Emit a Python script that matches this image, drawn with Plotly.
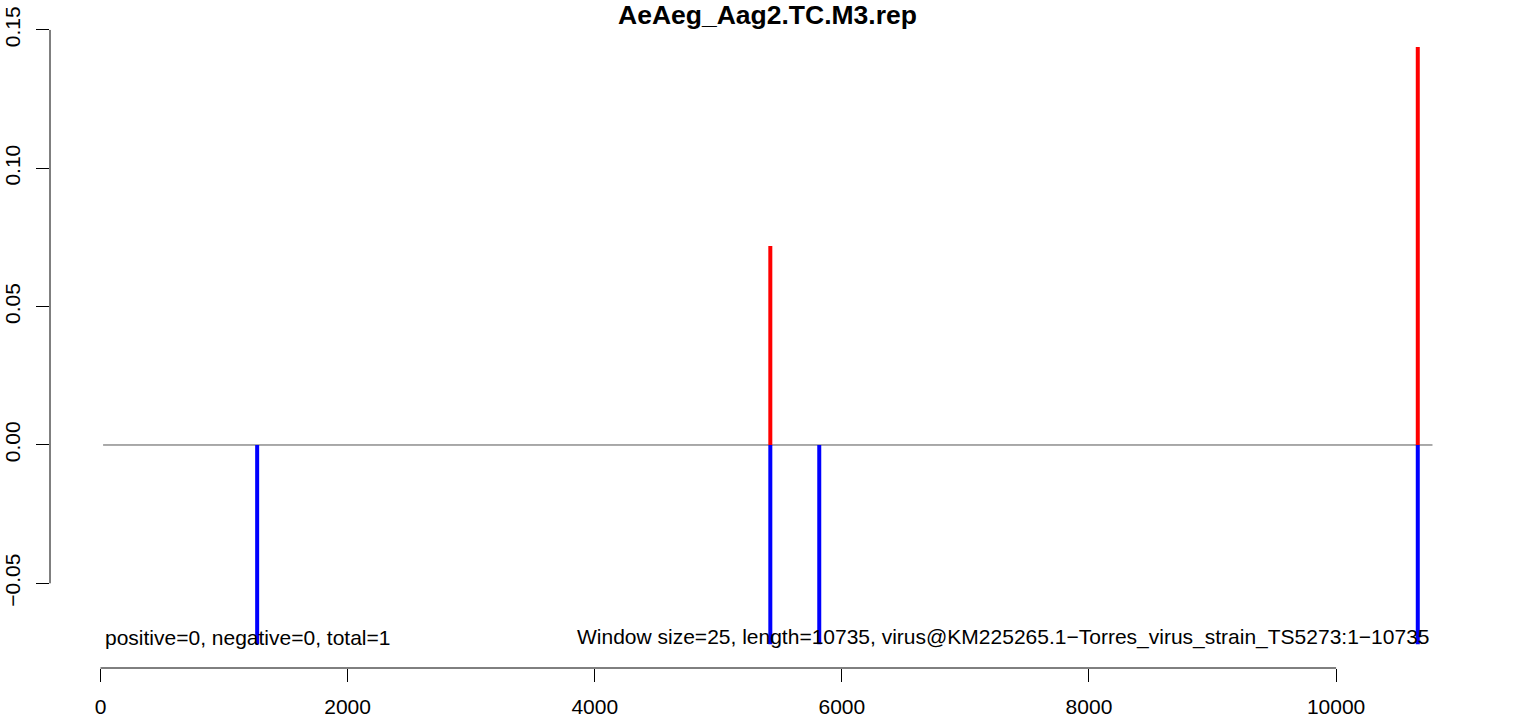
import plotly.graph_objects as go

# ---- data ----
title_text = "AeAeg_Aag2.TC.M3.rep"
pos_x = [5421, 10661]
pos_y = [0.0719, 0.1438]
neg_x = [1268, 5421, 5817, 10661]
neg_y = [-0.072, -0.072, -0.072, -0.072]
line_start = 21
line_end = 10780
x_ticks = [0, 2000, 4000, 6000, 8000, 10000]
x_tick_labels = ["0", "2000", "4000", "6000", "8000", "10000"]
y_ticks = [-0.05, 0.0, 0.05, 0.10, 0.15]
y_tick_labels = ["\u22120.05", "0.00", "0.05", "0.10", "0.15"]
left_note = "positive=0, negative=0, total=1"
right_note = "Window size=25, length=10735, virus@KM225265.1\u2212Torres_virus_strain_TS5273:1\u221210735"

FONT = "Liberation Sans, Arial, Helvetica, sans-serif"
FS = 21


def stems(xs, ys):
    sx, sy = [], []
    for x, y in zip(xs, ys):
        sx += [x, x, None]
        sy += [0, y, None]
    return sx, sy


fig = go.Figure()
rx, ry = stems(pos_x, pos_y)
bx, by = stems(neg_x, neg_y)
fig.add_trace(go.Scatter(x=rx, y=ry, mode="lines", line=dict(color="#ff0000", width=4),
                         hoverinfo="skip", showlegend=False))
fig.add_trace(go.Scatter(x=bx, y=by, mode="lines", line=dict(color="#0000ff", width=4),
                         hoverinfo="skip", showlegend=False))

# zero line across data range
fig.add_shape(type="line", xref="x", yref="y", x0=line_start, x1=line_end, y0=0, y1=0,
              line=dict(color="#555555", width=1), layer="below")
# R-style axis lines spanning first..last tick
fig.add_shape(type="line", xref="x", yref="paper", x0=x_ticks[0], x1=x_ticks[-1], y0=0, y1=0,
              line=dict(color="black", width=1))
fig.add_shape(type="line", xref="paper", yref="y", x0=0, x1=0, y0=y_ticks[0], y1=y_ticks[-1],
              line=dict(color="black", width=1))

fig.add_annotation(x=line_start, y=min(neg_y), xref="x", yref="y", text=left_note,
                   showarrow=False, xanchor="left", yanchor="middle", yshift=7,
                   font=dict(family=FONT, size=FS, color="black"))
fig.add_annotation(x=line_end, y=min(neg_y), xref="x", yref="y", text=right_note,
                   showarrow=False, xanchor="right", yanchor="middle", yshift=7,
                   font=dict(family=FONT, size=FS, color="black"))

fig.update_layout(
    width=1536, height=719,
    margin=dict(l=50, r=51, t=20, b=51, autoexpand=False),
    paper_bgcolor="white", plot_bgcolor="white",
    title=dict(text="<b>" + title_text + "</b>", x=0.5, xref="paper", xanchor="center",
               y=1 - 15 / 719, yref="container", yanchor="middle",
               font=dict(family=FONT, size=26.5, color="black")),
    font=dict(family=FONT, size=FS, color="black"),
    showlegend=False,
)
fig.update_xaxes(range=[-408.6, 11205], tickvals=x_ticks, ticktext=x_tick_labels,
                 ticks="outside", ticklen=13, tickwidth=1, tickcolor="black",
                 showline=False, showgrid=False, zeroline=False, automargin=False,
                 tickfont=dict(family=FONT, size=FS, color="black"), ticklabelstandoff=7)
fig.update_yaxes(range=[-0.0806, 0.1536], tickvals=y_ticks, ticktext=y_tick_labels,
                 ticks="outside", ticklen=13, tickwidth=1, tickcolor="black",
                 showline=False, showgrid=False, zeroline=False, tickangle=-90, automargin=False,
                 tickfont=dict(family=FONT, size=FS, color="black"), ticklabelstandoff=8)

# remove the browser's default 8px body margin so the figure fills the window
fig.write_html("out.html", config={"displayModeBar": False},
               post_script="document.body.style.margin='0';")
